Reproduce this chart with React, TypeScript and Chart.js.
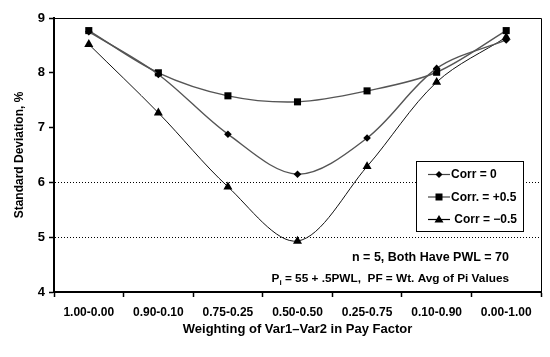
import React, { useEffect, useRef } from "react";
import { Chart, registerables } from "chart.js";

Chart.register(...registerables);

const categories = ["1.00-0.00", "0.90-0.10", "0.75-0.25", "0.50-0.50", "0.25-0.75", "0.10-0.90", "0.00-1.00"];
const corrZero = [8.75, 7.97, 6.88, 6.15, 6.81, 8.08, 8.60];
const corrPlus = [8.77, 8.00, 7.58, 7.47, 7.67, 8.01, 8.77];
const corrMinus = [8.52, 7.27, 5.92, 4.93, 6.29, 7.83, 8.65];
const seriesLabels = ["Corr = 0", "Corr. = +0.5", " Corr = \u22120.5"];
const yTicks = [4, 5, 6, 7, 8, 9];
const gridValues = [5, 6];
const noteLine1 = "n = 5, Both Have PWL = 70";
const noteLine2a = "P";
const noteLine2sub = "i";
const noteLine2b = " = 55 + .5PWL,  PF = Wt. Avg of Pi Values";

const FONT = "'Liberation Sans', Arial, sans-serif";

const overlayPlugin = {
  id: "overlay",
  afterDraw(chart: any) {
    const { ctx, chartArea } = chart;
    ctx.save();
    // top and right frame
    ctx.strokeStyle = "#000";
    ctx.lineWidth = 1;
    ctx.beginPath();
    ctx.moveTo(chartArea.left, chartArea.top + 0.5);
    ctx.lineTo(chartArea.right + 0.5, chartArea.top + 0.5);
    ctx.lineTo(chartArea.right + 0.5, chartArea.bottom);
    ctx.stroke();

    // legend box
    const bx = 416.5, by = 161.5, bw = 107, bh = 70;
    ctx.fillStyle = "#fff";
    ctx.fillRect(bx, by, bw, bh);
    ctx.strokeStyle = "#000";
    ctx.strokeRect(bx, by, bw, bh);
    const rows = [174.5, 197, 219.5];
    const styles = ["diamond", "square", "triangle"];
    const colors = ["#444", "#444", "#000"];
    ctx.font = `bold 12px ${FONT}`;
    ctx.textBaseline = "middle";
    ctx.textAlign = "left";
    rows.forEach((ry, i) => {
      ctx.strokeStyle = colors[i];
      ctx.lineWidth = 1.2;
      ctx.beginPath();
      ctx.moveTo(428, ry);
      ctx.lineTo(450, ry);
      ctx.stroke();
      const cx = 439;
      ctx.fillStyle = "#000";
      ctx.beginPath();
      if (styles[i] === "diamond") {
        ctx.moveTo(cx, ry - 3.5);
        ctx.lineTo(cx + 3.5, ry);
        ctx.lineTo(cx, ry + 3.5);
        ctx.lineTo(cx - 3.5, ry);
        ctx.closePath();
      } else if (styles[i] === "square") {
        ctx.rect(cx - 3.5, ry - 3.5, 7, 7);
      } else {
        ctx.moveTo(cx, ry - 4.5);
        ctx.lineTo(cx + 4.5, ry + 3);
        ctx.lineTo(cx - 4.5, ry + 3);
        ctx.closePath();
      }
      ctx.fill();
      ctx.fillStyle = "#000";
      ctx.fillText(seriesLabels[i], 451, ry + 0.5);
    });

    // notes
    const right = 509;
    ctx.textAlign = "right";
    ctx.font = `bold 12.5px ${FONT}`;
    ctx.fillText(noteLine1, right, 258);
    ctx.font = `bold 11.8px ${FONT}`;
    const wB = ctx.measureText(noteLine2b).width;
    const wP = ctx.measureText(noteLine2a).width;
    ctx.font = `bold 8px ${FONT}`;
    const wS = ctx.measureText(noteLine2sub).width;
    const start = right - wB - wS - wP;
    ctx.textAlign = "left";
    ctx.font = `bold 11.8px ${FONT}`;
    ctx.fillText(noteLine2a, start, 279);
    ctx.font = `bold 8px ${FONT}`;
    ctx.fillText(noteLine2sub, start + wP, 283);
    ctx.font = `bold 11.8px ${FONT}`;
    ctx.fillText(noteLine2b, start + wP + wS, 279);
    ctx.restore();
  },
};

export default function App() {
  const ref = useRef<HTMLCanvasElement>(null);
  useEffect(() => {
    if (!ref.current) return;
    const chart = new Chart(ref.current, {
      type: "line",
      data: {
        labels: categories,
        datasets: [
          {
            label: seriesLabels[0],
            data: corrZero,
            borderColor: "#555",
            borderWidth: 1.4,
            pointStyle: "rectRot",
            pointRadius: 3.8,
            pointBackgroundColor: "#000",
            pointBorderColor: "#000",
            pointBorderWidth: 0,
            tension: 0.33,
          },
          {
            label: seriesLabels[1],
            data: corrPlus,
            borderColor: "#555",
            borderWidth: 1.4,
            pointStyle: "rect",
            pointRadius: 5,
            pointBackgroundColor: "#000",
            pointBorderColor: "#000",
            pointBorderWidth: 0,
            tension: 0.33,
          },
          {
            label: seriesLabels[2],
            data: corrMinus,
            borderColor: "#111",
            borderWidth: 1,
            pointStyle: "triangle",
            pointRadius: 5.2,
            pointBackgroundColor: "#000",
            pointBorderColor: "#000",
            pointBorderWidth: 0,
            tension: 0.33,
          },
        ],
      },
      options: {
        responsive: false,
        animation: false,
        layout: { padding: { top: 18, right: 9, left: 0, bottom: 0 } },
        plugins: { legend: { display: false }, tooltip: { enabled: false } },
        scales: {
          x: {
            type: "category",
            offset: true,
            afterFit: (s: any) => {
              s.height = 65;
            },
            grid: {
              offset: true,
              drawOnChartArea: false,
              color: "#000",
              tickColor: "#000",
              tickLength: 5,
              tickWidth: 1.5,
            },
            border: { display: true, color: "#000", width: 2 },
            ticks: {
              color: "#000",
              font: { family: FONT, size: 12, weight: "bold" },
              maxRotation: 0,
              autoSkip: false,
              padding: 8,
            },
            title: {
              display: true,
              text: "Weighting of Var1\u2013Var2 in Pay Factor",
              color: "#000",
              font: { family: FONT, size: 13, weight: "bold" },
              padding: { top: 0, bottom: 20 },
            },
          },
          y: {
            min: 4,
            max: 9,
            afterFit: (s: any) => {
              s.width = 54;
            },
            afterBuildTicks: (s: any) => {
              s.ticks = yTicks.map((v) => ({ value: v }));
            },
            grid: {
              color: (c: any) => (c.tick && gridValues.includes(c.tick.value) ? "#000" : "rgba(0,0,0,0)"),
              lineWidth: 1,
              tickColor: "#000",
              tickLength: 5,
              tickWidth: 1.5,
            },
            border: { display: true, color: "#000", width: 2, dash: [1, 2] },
            ticks: {
              color: "#000",
              font: { family: FONT, size: 13, weight: "bold" },
              padding: 4,
            },
            title: {
              display: true,
              text: "Standard Deviation, %",
              color: "#000",
              font: { family: FONT, size: 12, weight: "bold" },
              padding: { top: 12.5, bottom: 0 },
            },
          },
        },
      },
      plugins: [overlayPlugin],
    } as any);
    return () => chart.destroy();
  }, []);
  return (
    <div style={{ position: "absolute", left: 0, top: 0, width: 550, height: 357, background: "#fff" }}>
      <canvas ref={ref} width={550} height={357} style={{ width: 550, height: 357 }} />
    </div>
  );
}
